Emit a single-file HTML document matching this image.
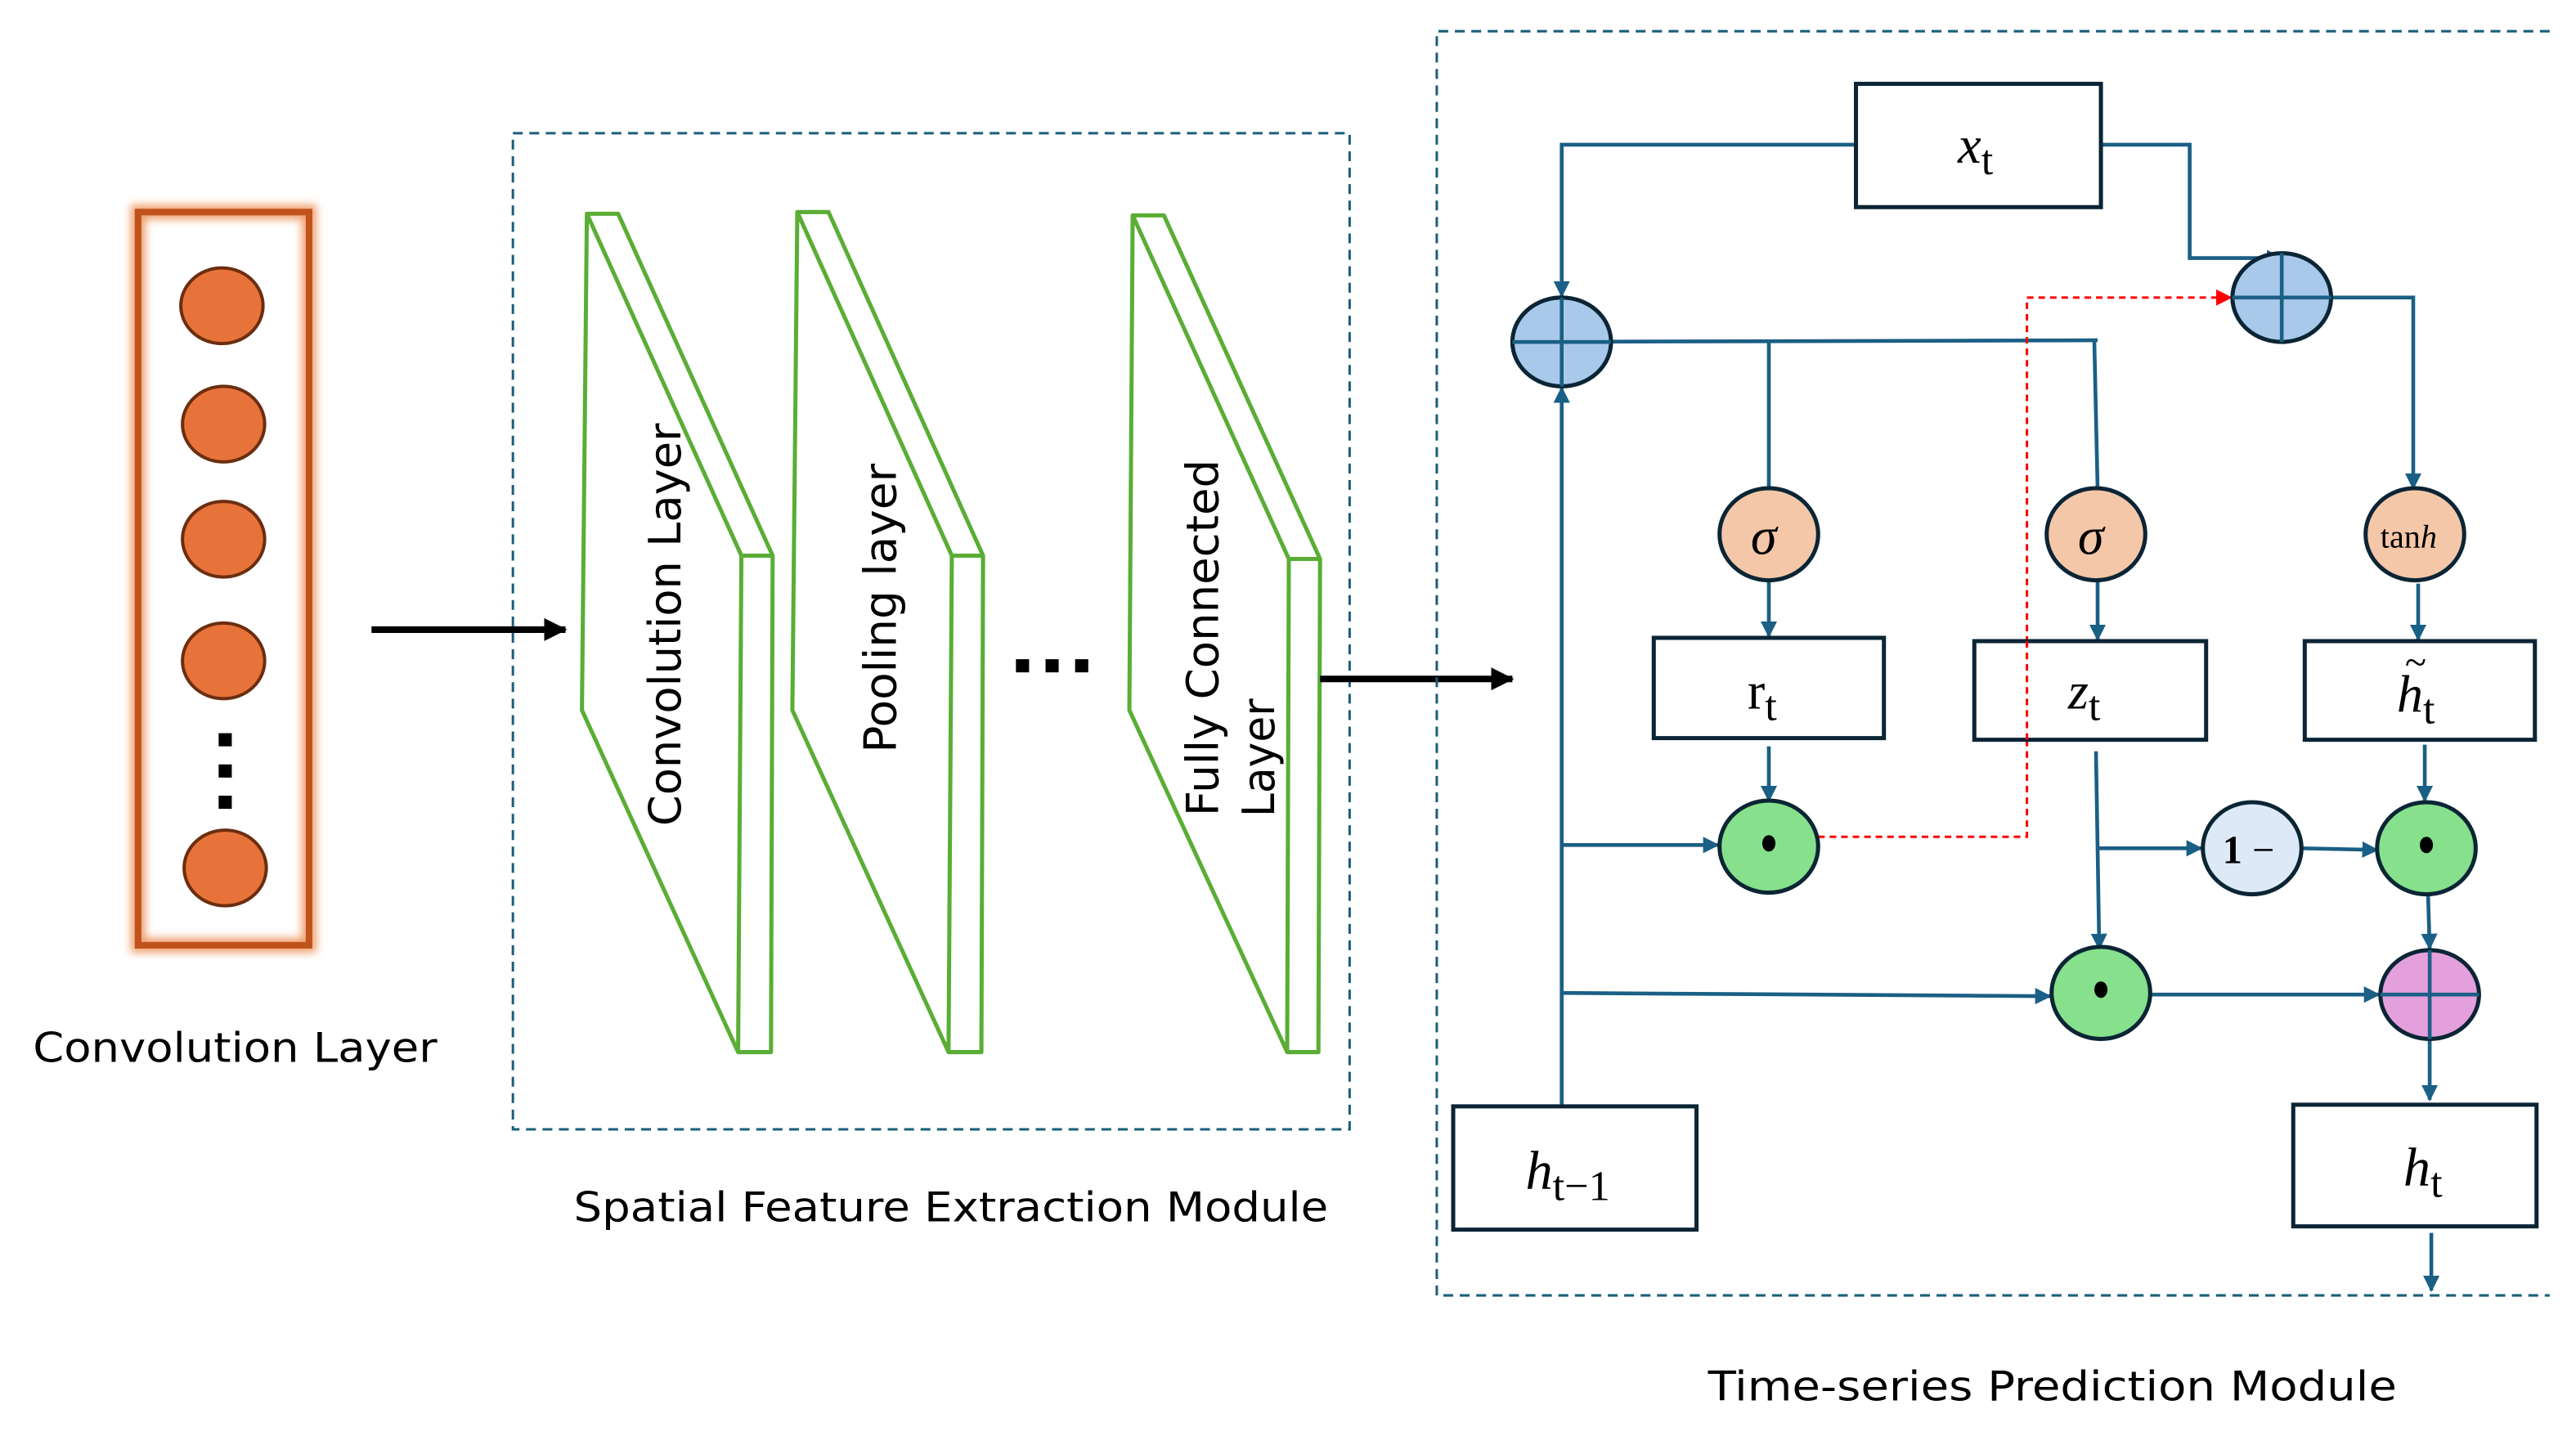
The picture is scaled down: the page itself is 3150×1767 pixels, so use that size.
<!DOCTYPE html>
<html><head><meta charset="utf-8"><style>
html,body{margin:0;padding:0;background:#fff;}
svg{display:block;}
.s{font-family:"DejaVu Sans","Liberation Sans",sans-serif;}
.m{font-family:"Liberation Serif","DejaVu Serif",serif;}
</style></head><body>
<svg width="3150" height="1767" viewBox="0 0 1567 879" preserveAspectRatio="none" xmlns="http://www.w3.org/2000/svg">
<defs>
<marker id="a" markerWidth="10" markerHeight="10" refX="9" refY="5" orient="auto" markerUnits="userSpaceOnUse"><path d="M0,0 L10,5 L0,10 z" fill="#1a5f85"/></marker>
<marker id="r" markerWidth="10" markerHeight="10" refX="9" refY="5" orient="auto" markerUnits="userSpaceOnUse"><path d="M0,0 L10,5 L0,10 z" fill="#f00"/></marker>
<marker id="k" markerWidth="14" markerHeight="14" refX="13" refY="7" orient="auto" markerUnits="userSpaceOnUse"><path d="M0,0 L14,7 L0,14 z" fill="#000"/></marker>
<filter id="g" x="-20%" y="-20%" width="140%" height="140%"><feGaussianBlur stdDeviation="2.5"/></filter>
</defs>

<rect x="84" y="129" width="104" height="446" fill="none" stroke="#f0a070" stroke-width="9" filter="url(#g)"/>
<rect x="84" y="129" width="104" height="446" fill="none" stroke="#c0521c" stroke-width="4"/>
<g fill="#e8733a" stroke="#6b2e10" stroke-width="2">
<ellipse cx="135" cy="186" rx="25" ry="23"/>
<ellipse cx="136" cy="258" rx="25" ry="23"/>
<ellipse cx="136" cy="328" rx="25" ry="23"/>
<ellipse cx="136" cy="402" rx="25" ry="23"/>
<ellipse cx="137" cy="528" rx="25" ry="23"/>
</g>
<rect x="133" y="446" width="8" height="8" fill="#000"/>
<rect x="133" y="465" width="8" height="8" fill="#000"/>
<rect x="133" y="484" width="8" height="8" fill="#000"/>
<text class="s" x="20" y="646" font-size="25" textLength="246" lengthAdjust="spacingAndGlyphs">Convolution Layer</text>

<line x1="226" y1="383" x2="344" y2="383" stroke="#000" stroke-width="4" marker-end="url(#k)"/>

<rect x="312" y="81" width="509" height="606" fill="none" stroke="#1a5f7a" stroke-width="1.5" stroke-dasharray="6 4"/>
<g fill="none" stroke="#5aad35" stroke-width="2.5" stroke-linejoin="round">
<path d="M357,130 L376,130 L470,338 L469,640 L449,640 L354,432 Z M357,130 L451,338 L449,640 M451,338 L470,338"/>
<path d="M485,129 L504,129 L598,338 L597,640 L577,640 L482,432 Z M485,129 L579,338 L577,640 M579,338 L598,338"/>
<path d="M689,131 L708,131 L803,340 L802,640 L783,640 L687,432 Z M689,131 L784,340 L783,640 M784,340 L803,340"/>
</g>
<text class="s" font-size="27" transform="translate(414,380) rotate(-90)" text-anchor="middle" textLength="245" lengthAdjust="spacingAndGlyphs">Convolution Layer</text>
<text class="s" font-size="27" transform="translate(545,370) rotate(-90)" text-anchor="middle" textLength="176" lengthAdjust="spacingAndGlyphs">Pooling layer</text>
<text class="s" font-size="27" transform="translate(741,388) rotate(-90)" text-anchor="middle" textLength="217" lengthAdjust="spacingAndGlyphs">Fully Connected</text>
<text class="s" font-size="27" transform="translate(775,461) rotate(-90)" text-anchor="middle" textLength="72" lengthAdjust="spacingAndGlyphs">Layer</text>
<rect x="618" y="401" width="8" height="8" fill="#000"/>
<rect x="636" y="401" width="8" height="8" fill="#000"/>
<rect x="654" y="401" width="8" height="8" fill="#000"/>
<line x1="803" y1="413" x2="920" y2="413" stroke="#000" stroke-width="4" marker-end="url(#k)"/>
<text class="s" x="349" y="743" font-size="25" textLength="459" lengthAdjust="spacingAndGlyphs">Spatial Feature Extraction Module</text>

<path d="M1551,19 L874,19 L874,788 L1551,788" fill="none" stroke="#1a5f7a" stroke-width="1.5" stroke-dasharray="6 4"/>
<text class="s" x="1039" y="852" font-size="25" textLength="419" lengthAdjust="spacingAndGlyphs">Time-series Prediction Module</text>

<g fill="none" stroke="#1a5f85" stroke-width="2.3">
<path d="M1129,88 L950,88 L950,180" marker-end="url(#a)"/>
<path d="M1278,88 L1332,88 L1332,157 L1388,157" marker-end="url(#a)"/>
<path d="M950,673 L950,236" marker-end="url(#a)"/>
<path d="M920,208 L1276,207"/>
<path d="M1076,208 L1076,298"/>
<path d="M1274,208 L1276,298"/>
<path d="M1388,181 L1468,181 L1468,297" marker-end="url(#a)"/>
<path d="M1076,353 L1076,387" marker-end="url(#a)"/>
<path d="M1276,353 L1276,389" marker-end="url(#a)"/>
<path d="M1471,355 L1471,389" marker-end="url(#a)"/>
<path d="M1076,454 L1076,487" marker-end="url(#a)"/>
<path d="M950,514 L1045,514" marker-end="url(#a)"/>
<path d="M1275,457 L1277,577" marker-end="url(#a)"/>
<path d="M1277,516 L1339,516" marker-end="url(#a)"/>
<path d="M1400,516 L1446,517" marker-end="url(#a)"/>
<path d="M1475,453 L1475,487" marker-end="url(#a)"/>
<path d="M1477,544 L1478,577" marker-end="url(#a)"/>
<path d="M950,604 L1247,606" marker-end="url(#a)"/>
<path d="M1308,605 L1447,605" marker-end="url(#a)"/>
<path d="M1478,632 L1478,669" marker-end="url(#a)"/>
<path d="M1479,750 L1479,785" marker-end="url(#a)"/>
</g>
<path d="M1106,509 L1233,509 L1233,181 L1357,181" fill="none" stroke="#f00" stroke-width="1.5" stroke-dasharray="4 3" marker-end="url(#r)"/>

<g stroke="#0b2535" stroke-width="2.5">
<ellipse cx="950" cy="208" rx="30" ry="27" fill="#a9c9ea"/>
<ellipse cx="1388" cy="181" rx="30" ry="27" fill="#a9c9ea"/>
<ellipse cx="1076" cy="325" rx="30" ry="28" fill="#f5c7a9"/>
<ellipse cx="1275" cy="325" rx="30" ry="28" fill="#f5c7a9"/>
<ellipse cx="1469" cy="325" rx="30" ry="28" fill="#f5c7a9"/>
<ellipse cx="1076" cy="515" rx="30" ry="28" fill="#86e08c"/>
<ellipse cx="1370" cy="516" rx="30" ry="28" fill="#dde9f6"/>
<ellipse cx="1476" cy="516" rx="30" ry="28" fill="#86e08c"/>
<ellipse cx="1278" cy="604" rx="30" ry="28" fill="#86e08c"/>
<ellipse cx="1478" cy="605" rx="30" ry="27" fill="#e4a0dc"/>
</g>
<g stroke="#1a5f85" stroke-width="2.3">
<path d="M920,208 L980,208 M950,181 L950,235"/>
<path d="M1358,181 L1418,181 M1388,154 L1388,208"/>
<path d="M1448,605 L1508,605 M1478,578 L1478,632"/>
</g>
<g fill="#000">
<ellipse cx="1076" cy="513" rx="4" ry="5"/>
<ellipse cx="1476" cy="514" rx="4" ry="5"/>
<ellipse cx="1278" cy="602" rx="4" ry="5"/>
</g>

<g fill="#fff" stroke="#0b2535" stroke-width="2.5">
<rect x="1129" y="51" width="149" height="75"/>
<rect x="1006" y="388" width="140" height="61"/>
<rect x="1201" y="390" width="141" height="60"/>
<rect x="1402" y="390" width="140" height="60"/>
<rect x="884" y="673" width="148" height="75"/>
<rect x="1395" y="672" width="148" height="74"/>
</g>
<path d="M1233,390 L1233,450" stroke="#f00" stroke-width="1.5" stroke-dasharray="4 3"/>

<g class="m" fill="#000">
<text x="1191" y="99" font-size="32" font-style="italic">x<tspan font-style="normal" font-size="26" dy="7">t</tspan></text>
<text x="1065" y="337" font-size="32" font-style="italic">σ</text>
<text x="1264" y="337" font-size="32" font-style="italic">σ</text>
<text x="1448" y="333" font-size="20">tan<tspan font-style="italic">h</tspan></text>
<text x="1063" y="431" font-size="32">r<tspan font-size="26" dy="7">t</tspan></text>
<text x="1258" y="431" font-size="32" font-style="italic">z<tspan font-style="normal" font-size="26" dy="7">t</tspan></text>
<text x="1458" y="433" font-size="32" font-style="italic">h<tspan font-style="normal" font-size="26" dy="7">t</tspan></text>
<text x="1463" y="411" font-size="24">~</text>
<text x="1352" y="525" font-size="24" font-weight="bold">1 <tspan font-weight="normal">−</tspan></text>
<text x="928" y="723" font-size="33" font-style="italic">h<tspan font-style="normal" font-size="26" dy="7">t−1</tspan></text>
<text x="1462" y="721" font-size="33" font-style="italic">h<tspan font-style="normal" font-size="26" dy="7">t</tspan></text>
</g>
</svg>
</body></html>
